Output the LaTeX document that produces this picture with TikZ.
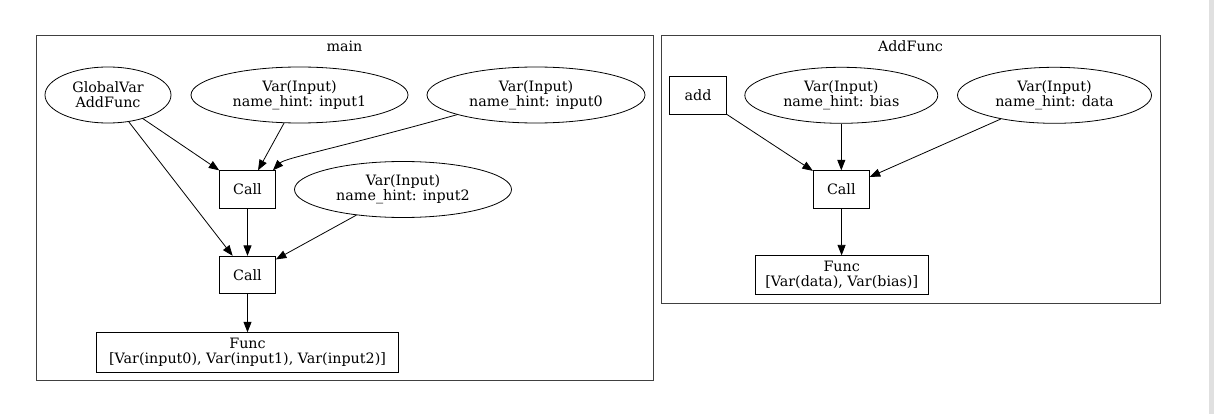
\documentclass[tikz,border=0pt]{standalone}
\usepackage{fontspec}
\setmainfont{DejaVu Serif}
\usetikzlibrary{shapes.geometric,arrows.meta}
\begin{document}
\begin{tikzpicture}[x=1pt,y=-1pt,
  every node/.style={font=\fontsize{14.3}{15}\selectfont, inner sep=0pt, align=center},
  ell/.style={draw, ellipse, line width=0.8pt},
  box/.style={draw, rectangle, line width=0.8pt},
  cluster/.style={draw=black!75, line width=0.9pt},
  edge/.style={line width=0.8pt, -{Triangle[length=10.5pt,width=8pt]}}]
\useasboundingbox (0,0) rectangle (1214,414);
\fill[white] (0,0) rectangle (1214,414);
\fill[black!12] (1209,0) rectangle (1214,414);
% clusters
\draw[cluster] (36,35) rectangle (653,380.5);
\node (mainlbl) at (344.5,46) {main};
\draw[cluster] (661.5,35) rectangle (1160,303);
\node (addlbl) at (910.5,46) {AddFunc};
% main nodes
\node[ell, minimum width=126pt, minimum height=56pt] (gv) at (108,95) {GlobalVar\\AddFunc};
\node[ell, minimum width=217pt, minimum height=56pt] (in1) at (299.5,95) {Var(Input)\\name\_hint: input1};
\node[ell, minimum width=218pt, minimum height=56pt] (in0) at (536,95) {Var(Input)\\name\_hint: input0};
\node[ell, minimum width=217pt, minimum height=56pt] (in2) at (403,189.5) {Var(Input)\\name\_hint: input2};
\node[box, minimum width=56pt, minimum height=37.5pt] (c1) at (247.5,189.5) {Call};
\node[box, minimum width=56pt, minimum height=37.5pt] (c2) at (247.5,275) {Call};
\node[box, minimum width=302pt, minimum height=40pt] (f1) at (247.5,352.7) {Func\\{[}Var(input0), Var(input1), Var(input2){]}};
% AddFunc nodes
\node[box, minimum width=57pt, minimum height=37.5pt] (add) at (698,95.5) {add};
\node[ell, minimum width=193pt, minimum height=56pt] (bias) at (841.3,95.3) {Var(Input)\\name\_hint: bias};
\node[ell, minimum width=194pt, minimum height=56pt] (data) at (1054.5,95.3) {Var(Input)\\name\_hint: data};
\node[box, minimum width=56pt, minimum height=37.5pt] (c3) at (841.3,189.5) {Call};
\node[box, minimum width=173pt, minimum height=39pt] (f2) at (841.7,275.3) {Func\\{[}Var(data), Var(bias){]}};
% edges main
\draw[edge] (gv) -- (c1);
\draw[edge] (gv) -- (c2);
\draw[edge] (in1) -- (c1);
\draw[edge] (in0.194) .. controls (330,150) and (285,158) .. ([xshift=-3pt]c1.north east);
\draw[edge] (in2) -- (c2);
\draw[edge] (c1) -- (c2);
\draw[edge] (c2) -- (f1);
% edges AddFunc
\draw[edge] (add) -- (c3);
\draw[edge] (bias) -- (c3);
\draw[edge] (data) -- (c3);
\draw[edge] (c3) -- (f2);
\end{tikzpicture}
\end{document}
